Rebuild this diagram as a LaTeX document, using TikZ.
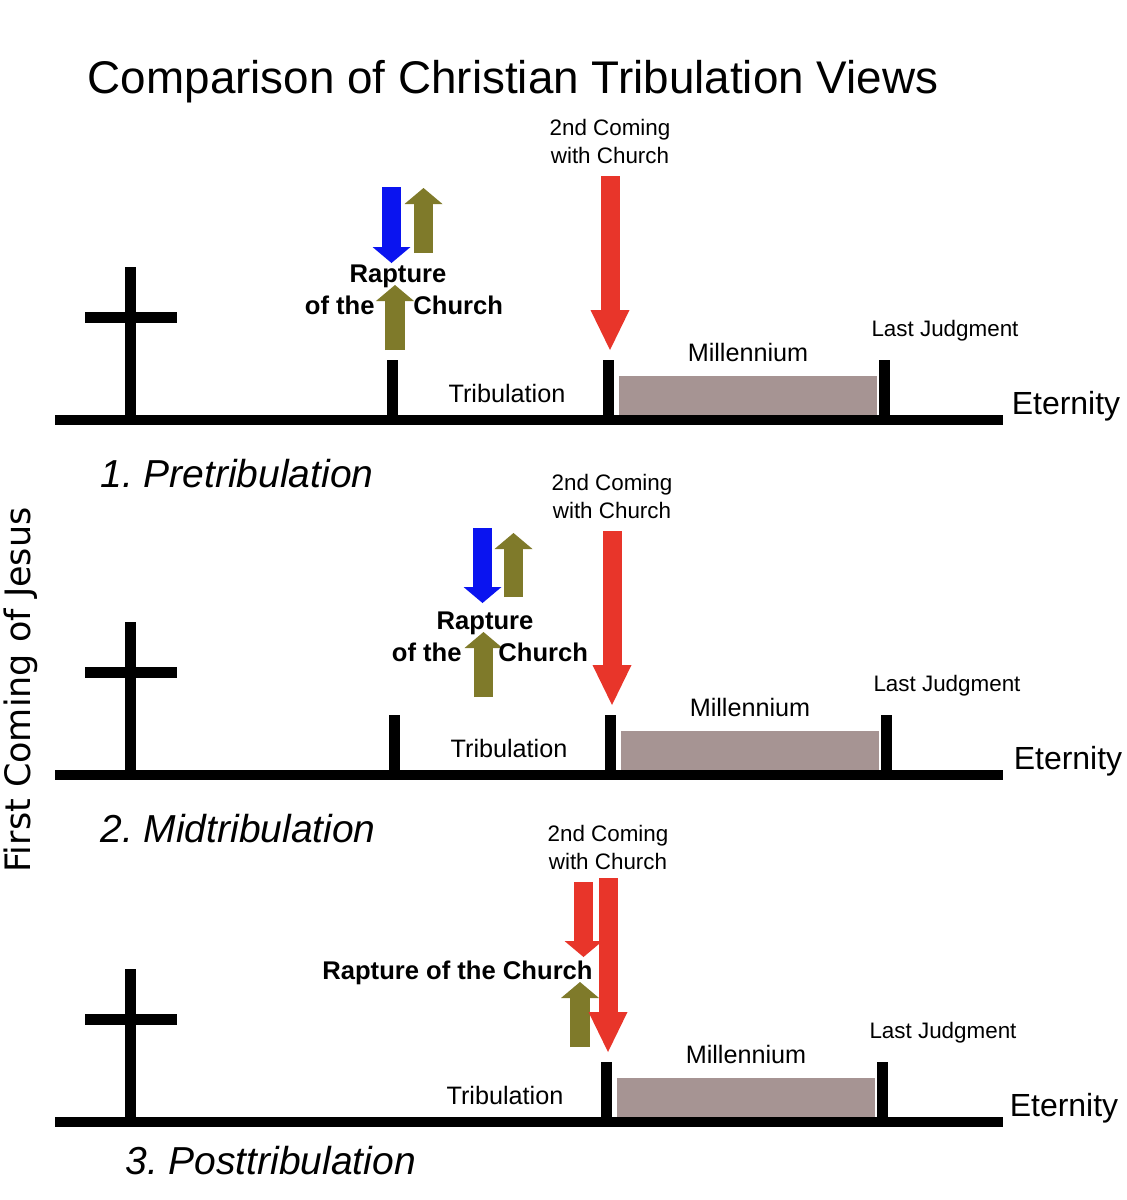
\documentclass[tikz,border=0pt]{standalone}
\usepackage{fontspec}
\setmainfont{Liberation Sans}
\newfontfamily\sidefont{DejaVu Sans}
\usepackage{tikz}
\usetikzlibrary{positioning, arrows.meta}
\frenchspacing
\definecolor{comeRed}{HTML}{E8352A}
\definecolor{raptBlue}{HTML}{0A14F0}
\definecolor{raptOlive}{HTML}{7F7A2A}
\definecolor{millGrey}{HTML}{A69493}

\tikzset{
  bar/.style={line width=5.5pt},
  axis/.style={line width=5pt},
  comearrow/.style={comeRed, line width=9.5pt, -{Triangle[length=20pt, width=19.5pt, line width=0pt]}},
  raptarrow/.style={line width=9.75pt, -{Triangle[length=8pt, width=19pt, line width=0pt]}},
  smalltext/.style={font=\fontsize{11.2}{14}\selectfont, align=center, inner sep=0pt},
  midtext/.style={font=\fontsize{12.6}{15}\selectfont, inner sep=0pt, anchor=base},
  rapttext/.style={font=\fontsize{12.8}{16}\selectfont\bfseries, inner sep=0pt, anchor=base},
  viewtext/.style={font=\fontsize{19.5}{23}\selectfont\itshape, inner sep=0pt, anchor=base west},
}

\begin{document}
\begin{tikzpicture}[x=0.5pt, y=-0.5pt]
  \useasboundingbox (0,0) rectangle (1126,1200);
  \node[font=\fontsize{22.9}{27}\selectfont, inner sep=0pt, anchor=base] (title) at (513,93)
    {Comparison of Christian Tribulation Views};
  \node[rotate=90, font=\sidefont\fontsize{17.5}{21}\selectfont, inner sep=0pt] (firstcoming) at (21,690)
    {First Coming of Jesus};

  % 1. Pretribulation - rapture before
  \coordinate (down1a) at (391.5,187);  \coordinate (down1b) at (391.5,263);
  \coordinate (upper1a) at (423.5,253); \coordinate (upper1b) at (423.5,188);
  \coordinate (lower1a) at (395,350);   \coordinate (lower1b) at (395,285);
  \draw[raptarrow, raptBlue] (down1a) -- (down1b);
  \draw[raptarrow, raptOlive] (upper1a) -- (upper1b);
  \draw[raptarrow, raptOlive] (lower1a) -- (lower1b);
  \node[rapttext] (rapt1) at (398,282) {Rapture};
  \node[rapttext, anchor=base east] (ofthe1) at (375,314) {of the};
  \node[rapttext, anchor=base west] (church1) at (413,314) {Church};

  % 2. Midtribulation - rapture in the middle
  \coordinate (down2a) at (482.5,528);  \coordinate (down2b) at (482.5,603);
  \coordinate (upper2a) at (513.5,597); \coordinate (upper2b) at (513.5,533);
  \coordinate (lower2a) at (483.5,697); \coordinate (lower2b) at (483.5,632);
  \draw[raptarrow, raptBlue] (down2a) -- (down2b);
  \draw[raptarrow, raptOlive] (upper2a) -- (upper2b);
  \draw[raptarrow, raptOlive] (lower2a) -- (lower2b);
  \node[rapttext] (rapt2) at (485,629) {Rapture};
  \node[rapttext, anchor=base east] (ofthe2) at (462,661) {of the};
  \node[rapttext, anchor=base west] (church2) at (498,661) {Church};

  % 3. Posttribulation - rapture with the 2nd coming
  \coordinate (down3a) at (583.5,882);  \coordinate (down3b) at (583.5,957);
  \coordinate (lower3a) at (580,1047);  \coordinate (lower3b) at (580,982);
  \draw[raptarrow, comeRed] (down3a) -- (down3b);
  \draw[raptarrow, raptOlive] (lower3a) -- (lower3b);
  \node[rapttext, anchor=base east] (rapt3) at (593,979) {Rapture of the Church};

  % the three time lines
  \foreach \dx/\dy/\n/\lift in {0/0/1/6pt, 2/355/2/6pt, -2/702/3/4pt}{
    \begin{scope}[shift={(0,\dy)}]
      \draw[axis] (55,420) -- (1003,420);
      % cross
      \draw[bar] (130.5,267) -- (130.5,420);
      \draw[bar] (85,317.5) -- (177,317.5);
    \begin{scope}[shift={(\dx,0)}]
      % ticks
      \ifnum\n<3 \draw[bar] (392.5,360) -- (392.5,420); \fi
      \draw[bar] (608.5,360) -- (608.5,420);
      \draw[bar] (884.5,360) -- (884.5,420);
      \fill[millGrey] (619,376) rectangle (877,415);
      \node[midtext] (trib\n) at (507,402) {Tribulation};
      \node[midtext] (mill\n) at (748,361) {Millennium};
      \node[smalltext, anchor=base] (judg\n) at (945,336) {Last Judgment};
      \node[font=\fontsize{16}{19}\selectfont, inner sep=0pt, anchor=base] (eter\n) at (1066,414) {Eternity};
      % 2nd coming
      \coordinate (come\n a) at (610,176);
      \coordinate (come\n b) at (610,350);
      \draw[comearrow] (come\n a) -- (come\n b);
      \node[smalltext, above=\lift of come\n a] (comelabel\n) {2nd Coming\\with Church};
    \end{scope}
    \end{scope}
  }

  \node[viewtext] (view1) at (100,487) {1. Pretribulation};
  \node[viewtext] (view2) at (100,842) {2. Midtribulation};
  \node[viewtext] (view3) at (125,1174) {3. Posttribulation};
\end{tikzpicture}
\end{document}
